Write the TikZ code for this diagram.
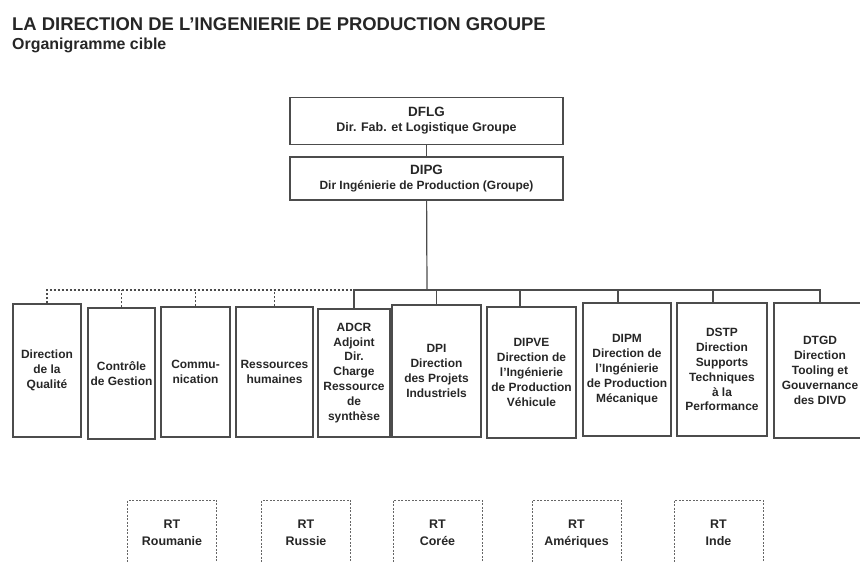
\documentclass[tikz,border=0pt]{standalone}
\usepackage{fontspec}
\setmainfont{Liberation Sans}
\begin{document}
\begin{tikzpicture}[x=1bp,y=-1bp,
		box/.style={draw=black!70, line width=1.2bp, align=center, inner sep=1bp, text=black!85,
			font=\fontsize{12}{15}\selectfont\bfseries},
		topbox/.style={box, minimum width=273bp},
		rtbox/.style={draw=black!60, line width=1bp, dash pattern=on 2bp off 1.5bp, align=center,
			text=black!85, font=\fontsize{12.5}{17}\selectfont\bfseries, minimum width=89bp, minimum height=70bp},
		link/.style={draw=black!70, line width=1.2bp},
		dotlink/.style={link, dash pattern=on 2.5bp off 1.5bp}]
	\useasboundingbox (0,0) rectangle (860,563);
	
	% titres
	\node[anchor=base west, inner sep=0, text=black!85, font=\fontsize{18.5}{22}\selectfont\bfseries] (title) at (12,31) {LA DIRECTION DE L’INGENIERIE DE PRODUCTION GROUPE};
	\node[anchor=base west, inner sep=0, text=black!85, font=\fontsize{16}{19}\selectfont\bfseries] (subtitle) at (12,50) {Organigramme cible};
	
	% direction
	\node[topbox, minimum height=47bp] (dflg) at (426.5,121) {{\fontsize{13.5}{14}\selectfont DFLG}\\{\fontsize{12.5}{14}\selectfont Dir. Fab. et Logistique Groupe}};
	\node[topbox, minimum height=43bp] (dipg) at (426.5,178.5) {{\fontsize{13.5}{16.5}\selectfont DIPG}\\{\fontsize{12}{16.5}\selectfont Dir Ingénierie de Production (Groupe)}};
	
	% directions rattachees
	\node[box, minimum width=68bp, minimum height=133bp] (qual) at (47,370.5) {Direction\\de la\\Qualité};
	\node[box, minimum width=67bp, minimum height=131bp] (ctrl) at (121.5,373.5) {Contrôle\\de Gestion};
	\node[box, minimum width=69bp, minimum height=130bp] (comm) at (195.5,372) {Commu-\\nication};
	\node[box, minimum width=77bp, minimum height=130bp] (rh) at (274.5,372) {Ressources\\humaines};
	\node[box, minimum width=72bp, minimum height=128bp] (adcr) at (354,373) {ADCR\\Adjoint\\Dir.\\Charge\\Ressource\\de\\synthèse};
	\node[box, minimum width=89bp, minimum height=132bp] (dpi) at (436.5,371) {DPI\\Direction\\des Projets\\Industriels};
	\node[box, minimum width=89bp, minimum height=131bp] (dipve) at (531.5,372.5) {DIPVE\\Direction de\\l’Ingénierie\\de Production\\Véhicule};
	\node[box, minimum width=88bp, minimum height=133bp] (dipm) at (627,369.5) {DIPM\\Direction de\\l’Ingénierie\\de Production\\Mécanique};
	\node[box, minimum width=90bp, minimum height=133bp] (dstp) at (722,369.5) {DSTP\\Direction\\Supports\\Techniques\\à la\\Performance};
	\node[box, minimum width=92bp, minimum height=135bp] (dtgd) at (820,370.5) {DTGD\\Direction\\Tooling et\\Gouvernance\\des DIVD};
	
	% responsables territoriaux
	\node[rtbox] (rtrou) at (172,535) {RT\\Roumanie\strut};
	\node[rtbox] (rtrus) at (306,535) {RT\\Russie\strut};
	\node[rtbox] (rtcor) at (437.5,535) {RT\\Corée\strut};
	\node[rtbox] (rtame) at (576.5,535) {RT\\Amériques\strut};
	\node[rtbox] (rtind) at (718.5,535) {RT\\Inde\strut};
	
	% liaisons
	\coordinate (bus) at (427,290);
	\draw[link] (dflg) -- (dipg);
	\draw[link] (dipg) -- (bus);
	\draw[dotlink] (qual.north) |- (bus -| adcr.north);
	\draw[dotlink] (ctrl.north) -- (ctrl.north |- bus);
	\draw[dotlink] (comm.north) -- (comm.north |- bus);
	\draw[dotlink] (rh.north) -- (rh.north |- bus);
	\draw[link] (adcr.north) |- (bus -| dtgd.north) -- (dtgd.north);
	\draw[link] (dpi.north) -- (dpi.north |- bus);
	\draw[link] ([xshift=-11.5bp]dipve.north) -- ([xshift=-11.5bp]dipve.north |- bus);
	\draw[link] ([xshift=-9bp]dipm.north) -- ([xshift=-9bp]dipm.north |- bus);
	\draw[link] ([xshift=-9bp]dstp.north) -- ([xshift=-9bp]dstp.north |- bus);
\end{tikzpicture}
\end{document}
